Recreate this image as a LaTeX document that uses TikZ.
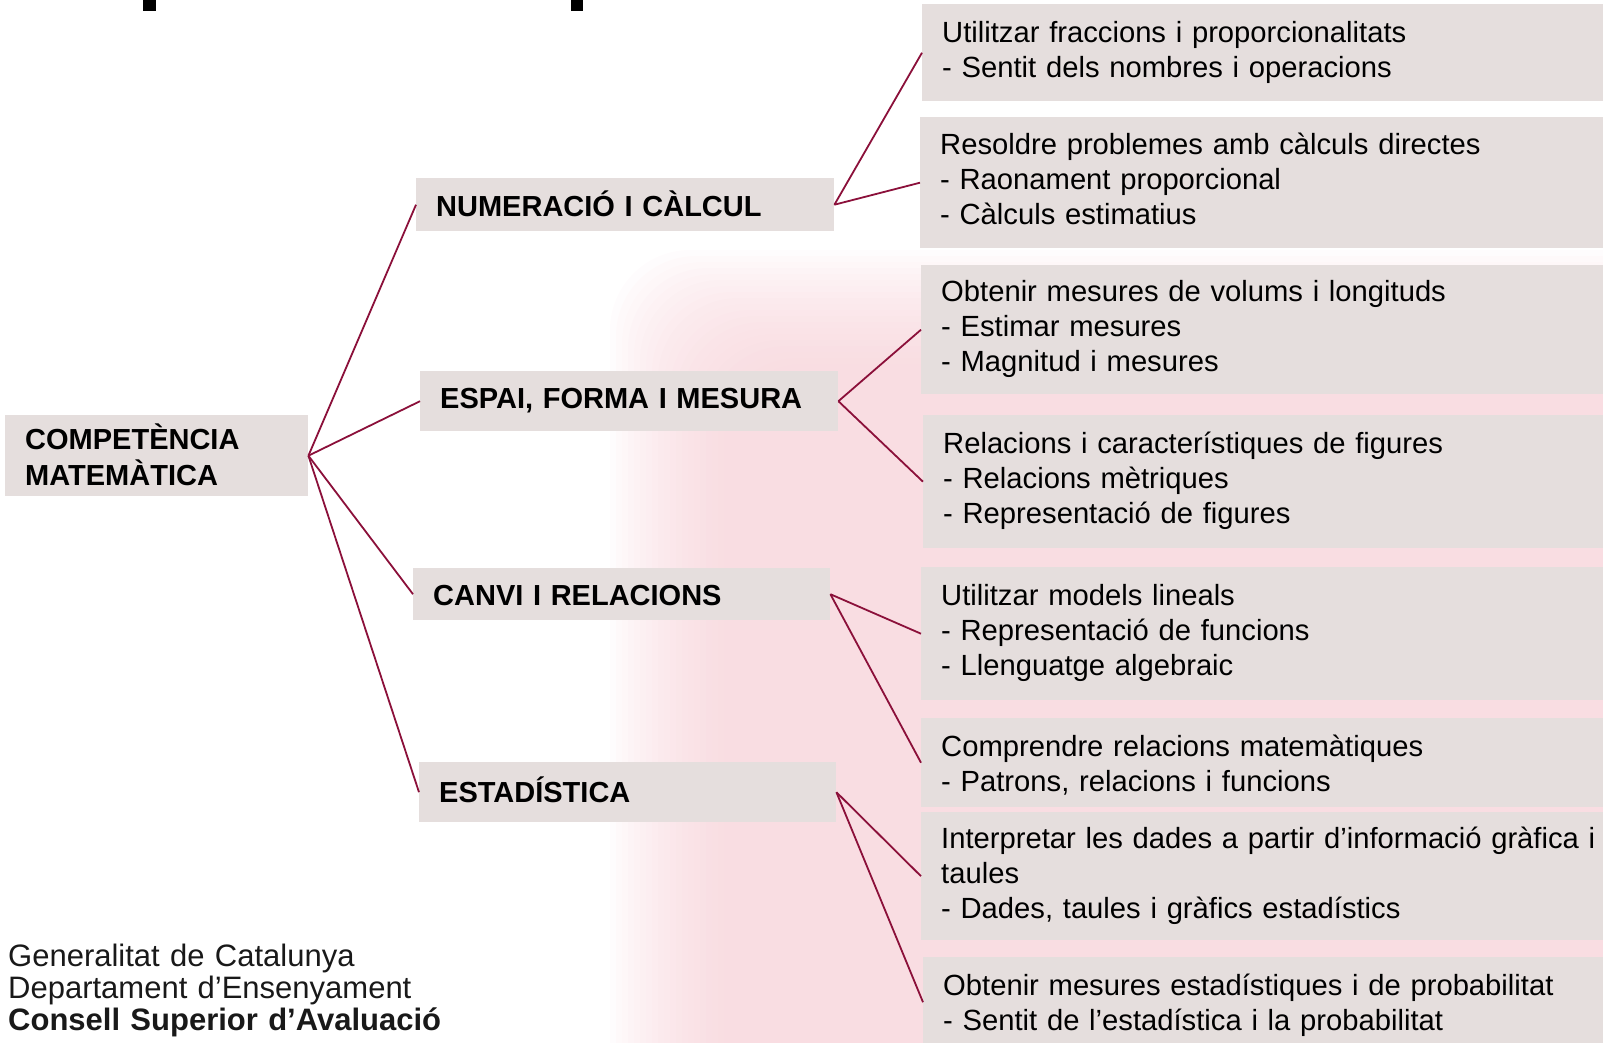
\documentclass[tikz,border=0pt]{standalone}
\usepackage{fontspec}
\setmainfont{Liberation Sans}
\definecolor{boxfill}{RGB}{229,222,221}
\definecolor{linkcol}{RGB}{139,16,58}
\definecolor{wmpink}{RGB}{246,206,213}
\begin{document}
\begin{tikzpicture}[x=1pt,y=-1pt,
  catbox/.style={fill=boxfill, anchor=north west, inner xsep=20pt, inner ysep=0pt,
    align=left, font=\fontsize{29}{35}\selectfont\bfseries},
  subbox/.style={fill=boxfill, anchor=north west, inner xsep=20pt, inner ysep=0pt,
    text width=700pt, align=left, font=\fontsize{29.2}{35}\selectfont},
  link/.style={draw=linkcol, line width=1.8pt}]
\useasboundingbox (0,0) rectangle (1603,1042);
\begin{scope}
\clip (0,0) rectangle (1603,1042);
% faint watermark with soft edges
\foreach \i in {0,...,19}
  \fill[wmpink, opacity=0.06, rounded corners=80pt] ({610+\i*6},{250+\i*6}) rectangle (1700,1140);
% remnants of the cut-off title
\fill[black] (143,0) rectangle (156,11);
\fill[black] (571,0) rectangle (583,11);

% root
\node[catbox, text width=263pt, minimum height=81pt, text height=25pt, text depth=38pt,
  font=\fontsize{29}{36}\selectfont\bfseries] (comp) at (5,415)
  {COMPETÈNCIA\\MATEMÀTICA};

% categories
\node[catbox, text width=378pt, minimum height=53pt, text height=24.4pt, text depth=0pt] (num) at (416,178) {NUMERACIÓ I CÀLCUL};
\node[catbox, text width=378pt, minimum height=60pt, text height=20pt, text depth=5.4pt] (esp) at (420,371) {ESPAI, FORMA I MESURA};
\node[catbox, text width=377pt, minimum height=52pt, text height=23.4pt, text depth=0pt] (canvi) at (413,568) {CANVI I RELACIONS};
\node[catbox, text width=377pt, minimum height=60pt, text height=22pt, text depth=2pt] (estad) at (419,762) {ESTADÍSTICA};

% sub-items
\node[subbox, minimum height=97pt] (r1) at (922,4)
  {\strut Utilitzar fraccions i proporcionalitats\\\strut - Sentit dels nombres i operacions};
\node[subbox, minimum height=131pt] (r2) at (920,117)
  {\strut Resoldre problemes amb càlculs directes\\\strut - Raonament proporcional\\\strut - Càlculs estimatius};
\node[subbox, minimum height=129pt] (r3) at (921,265)
  {\strut Obtenir mesures de volums i longituds\\\strut - Estimar mesures\\\strut - Magnitud i mesures};
\node[subbox, minimum height=133pt] (r4) at (923,415)
  {\strut Relacions i característiques de figures\\\strut - Relacions mètriques\\\strut - Representació de figures};
\node[subbox, minimum height=133pt] (r5) at (921,567)
  {\strut Utilitzar models lineals\\\strut - Representació de funcions\\\strut - Llenguatge algebraic};
\node[subbox, minimum height=89pt, text height=24.5pt, text depth=37.5pt] (r6) at (921,718)
  {\strut Comprendre relacions matemàtiques\\\strut - Patrons, relacions i funcions};
\node[subbox, minimum height=128pt] (r7) at (921,812)
  {\strut Interpretar les dades a partir d’informació gràfica i\\\strut taules\\\strut - Dades, taules i gràfics estadístics};
\node[subbox, minimum height=90pt, text height=24.5pt, text depth=37.5pt] (r8) at (923,957)
  {\strut Obtenir mesures estadístiques i de probabilitat\\\strut - Sentit de l’estadística i la probabilitat};

% logo text
\node[anchor=base west, inner sep=0pt, text width=500pt, align=left,
  font=\fontsize{31}{32.3}\selectfont, text=black!90] (logo) at (8,966)
  {Generalitat de Catalunya\\Departament d’Ensenyament\\\textbf{Consell Superior d’Avaluació}};

% connectors
\draw[link] (comp.east) -- (num.west);
\draw[link] (comp.east) -- (esp.west);
\draw[link] (comp.east) -- (canvi.west);
\draw[link] (comp.east) -- (estad.west);
\draw[link] (num.east) -- (r1.west);
\draw[link] (num.east) -- (r2.west);
\draw[link] (esp.east) -- (r3.west);
\draw[link] (esp.east) -- (r4.west);
\draw[link] (canvi.east) -- (r5.west);
\draw[link] (canvi.east) -- (r6.west);
\draw[link] (estad.east) -- (r7.west);
\draw[link] (estad.east) -- (r8.west);
\end{scope}
\end{tikzpicture}
\end{document}
